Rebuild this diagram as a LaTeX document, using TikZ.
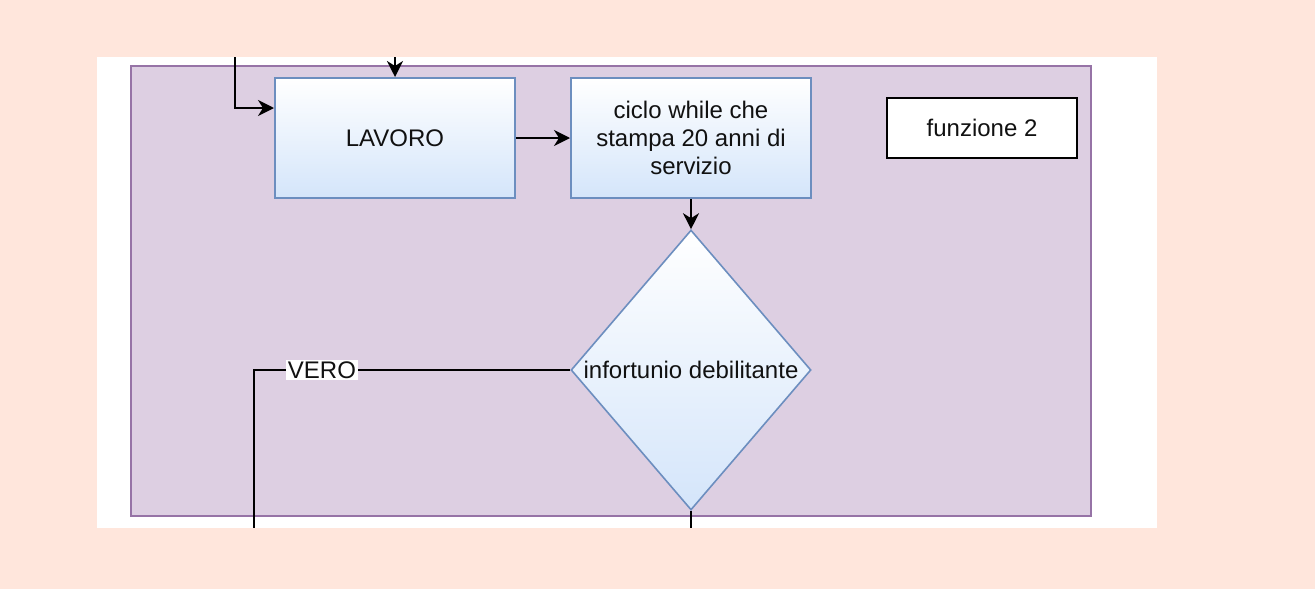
\documentclass[tikz,border=0pt]{standalone}
\usepackage{fontspec}
\setmainfont{Liberation Sans}
\usetikzlibrary{shapes.geometric,arrows.meta}
\definecolor{peach}{HTML}{FFE6DC}
\definecolor{purfill}{HTML}{DDCFE2}
\definecolor{purline}{HTML}{9673A6}
\definecolor{bluebot}{HTML}{D4E5FA}
\definecolor{blueline}{HTML}{6C8EBF}
\definecolor{txt}{HTML}{111111}
\tikzset{
  procbox/.style={draw=blueline, line width=1pt, top color=white, bottom color=bluebot,
    minimum width=120pt, minimum height=60pt, inner sep=0pt, align=center,
    font=\fontsize{12}{14}\selectfont, text=txt},
  decbox/.style={diamond, draw=blueline, line width=0.8pt, top color=white, bottom color=bluebot,
    minimum width=120pt, minimum height=140pt, inner sep=0pt},
  plainbox/.style={draw=black, line width=1pt, fill=white, minimum width=95pt, minimum height=30pt,
    inner sep=0pt, font=\fontsize{12}{14}\selectfont, text=txt},
  conn/.style={draw=black, line width=1pt},
  arr/.style={conn, -{Stealth[length=8pt,width=8pt,inset=2.5pt]}},
  lbl/.style={fill=white, inner sep=0.8pt, font=\fontsize{12}{14}\selectfont, text=txt},
  txtonly/.style={font=\fontsize{12}{14}\selectfont, text=txt}
}
\begin{document}
\begin{tikzpicture}[x=0.5pt,y=-0.5pt]
\useasboundingbox (0,0) rectangle (1315,589);
\fill[peach] (0,0) rectangle (1315,589);
\fill[white] (97,57) rectangle (1157,528);
\filldraw[fill=purfill, draw=purline, line width=0.8pt] (131,66) rectangle (1091,516);

\node[procbox] (lav) at (395,138) {LAVORO};
\node[procbox] (ciclo) at (691,138) {ciclo while che\\stampa 20 anni di\\servizio};
\node[plainbox] (f2) at (982,128) {funzione 2};
\node[decbox] (dec) at (691,370) {};
\node[txtonly] (dectxt) at (691,370) {infortunio debilitante};

\coordinate (in1) at (395,57);
\coordinate (in2) at (235,57);
\coordinate (out1) at (254,528);
\coordinate (out2) at (691,528);

\draw[arr] (in1) -- (lav.north);
\draw[arr] (in2) |- (lav.west |- 0,108);
\draw[arr] (lav.east) -- (ciclo.west);
\draw[arr] (ciclo.south) -- (dec.north);
\draw[conn] (dec.west) -- node[lbl, pos=0.785] (vero) {VERO} (dec.west -| out1) -- (out1);
\draw[conn] (dec.south) -- (out2);
\end{tikzpicture}
\end{document}
